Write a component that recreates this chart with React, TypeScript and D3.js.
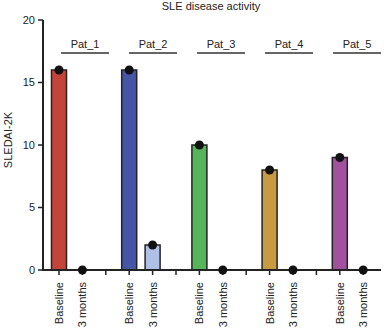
import React from "react";
import * as d3 from "d3";

const patients = ["Pat_1", "Pat_2", "Pat_3", "Pat_4", "Pat_5"];
const timepoints = ["Baseline", "3 months"];
const baselineValues = [16, 16, 10, 8, 9];
const threeMonthValues = [0, 2, 0, 0, 0];
const baselineColors = ["#c4443a", "#4656a6", "#56b45b", "#c89a42", "#a2519f"];
const threeMonthColors = ["#e8a59f", "#b0bfe6", "#a8dcaa", "#e6cf9f", "#d9a8d6"];
const yTicks = [0, 5, 10, 15, 20];
const title = "SLE disease activity";
const yLabel = "SLEDAI-2K";

const W = 384, H = 331;

export default function App() {
  const slots: string[] = [];
  patients.forEach((p, i) => {
    slots.push(p + "|B");
    slots.push(p + "|3");
    if (i < patients.length - 1) slots.push(p + "|sep");
  });
  const x = d3.scalePoint<string>().domain(slots).range([59, 363.2]);
  const xLab = d3.scalePoint<string>().domain(patients).range([85, 357]);
  const y = d3.scaleLinear().domain([0, 20]).range([270, 20]);
  const barW = 15;
  const font = "Liberation Sans, Arial, sans-serif";

  const bars: any[] = [];
  patients.forEach((p, i) => {
    bars.push({ key: p + "B", cx: x(p + "|B")!, v: baselineValues[i], c: baselineColors[i] });
    bars.push({ key: p + "3", cx: x(p + "|3")!, v: threeMonthValues[i], c: threeMonthColors[i] });
  });

  return (
    <svg width={W} height={H} style={{ position: "absolute", left: 0, top: 0 }} fontFamily={font}>
      <text x={211} y={10} fontSize={11} textAnchor="middle" fill="#222">{title}</text>
      <line x1={43} x2={43} y1={y(20)} y2={y(0)} stroke="#222" strokeWidth={2} />
      {yTicks.map((t) => (
        <g key={t}>
          <line x1={38} x2={43} y1={y(t)} y2={y(t)} stroke="#222" strokeWidth={1.5} />
          <text x={35} y={y(t)} dy="0.35em" fontSize={11} textAnchor="end" fill="#222">{t}</text>
        </g>
      ))}
      <text transform={`translate(12,${(y(0) + y(20)) / 2 - 5}) rotate(-90)`} fontSize={11} textAnchor="middle" fill="#222">{yLabel}</text>
      {bars.map((b) => (
        <g key={b.key}>
          {b.v > 0 && (
            <rect x={b.cx - barW / 2} y={y(b.v)} width={barW} height={y(0) - y(b.v)} fill={b.c} stroke="#222" strokeWidth={1.5} />
          )}
        </g>
      ))}
      <line x1={42} x2={381} y1={y(0)} y2={y(0)} stroke="#222" strokeWidth={2} />
      {slots.map((s) => (
        <line key={s} x1={x(s)!} x2={x(s)!} y1={y(0)} y2={y(0) + 5} stroke="#222" strokeWidth={1.5} />
      ))}
      {bars.map((b) => (
        <circle key={b.key + "c"} cx={b.cx} cy={y(b.v)} r={4.5} fill="#111" />
      ))}
      {patients.map((p) => {
        const cx = xLab(p)!;
        return (
          <g key={p}>
            <line x1={cx - 24} x2={cx + 24} y1={53} y2={53} stroke="#333" strokeWidth={1.5} />
            <text x={cx} y={48} fontSize={11} textAnchor="middle" fill="#222">{p}</text>
          </g>
        );
      })}
      {patients.map((p) =>
        ["B", "3"].map((k, j) => {
          const cx = x(p + "|" + k)!;
          return (
            <text key={p + k} transform={`translate(${cx + 4},${282}) rotate(-90)`} fontSize={11} textAnchor="end" fill="#222">
              {timepoints[j]}
            </text>
          );
        })
      )}
    </svg>
  );
}
